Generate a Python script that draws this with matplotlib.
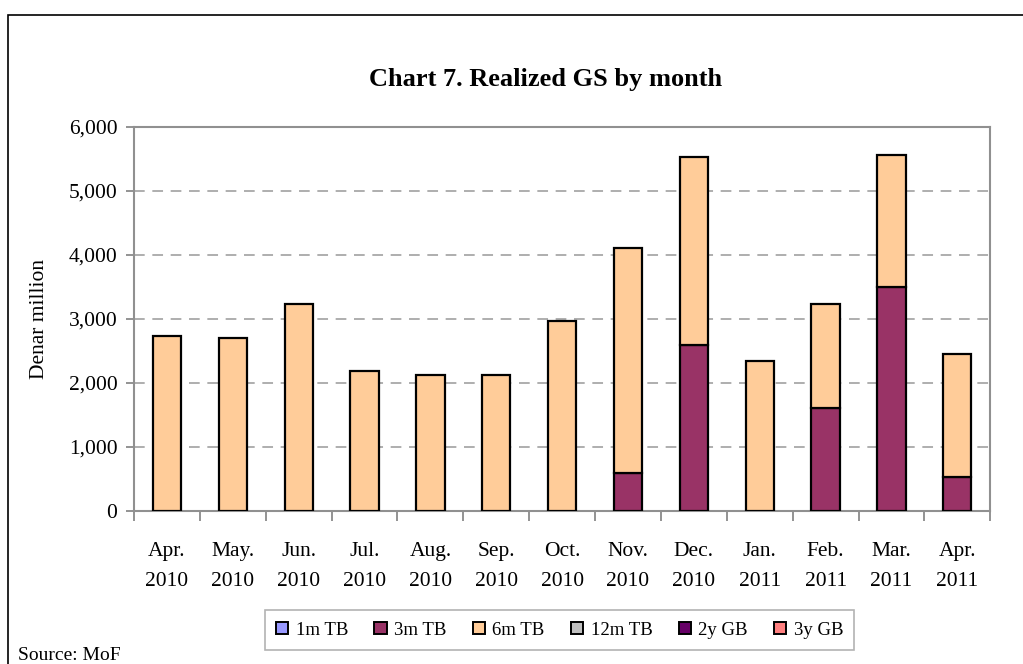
import numpy as np
import matplotlib.pyplot as plt
from matplotlib.patches import Rectangle
from matplotlib.ticker import FuncFormatter

plt.rcParams['font.family'] = ['Liberation Serif', 'DejaVu Serif']

# monthly realized government securities, denar million
months = ['Apr.\n2010', 'May.\n2010', 'Jun.\n2010', 'Jul.\n2010', 'Aug.\n2010',
          'Sep.\n2010', 'Oct.\n2010', 'Nov.\n2010', 'Dec.\n2010', 'Jan.\n2011',
          'Feb.\n2011', 'Mar.\n2011', 'Apr.\n2011']
tb_1m = [0, 0, 0, 0, 0, 0, 0, 0, 0, 0, 0, 0, 0]
tb_3m = [0, 0, 0, 0, 0, 0, 0, 600, 2600, 0, 1610, 3495, 530]
tb_6m = [2736, 2711, 3234, 2193, 2130, 2130, 2972, 3502, 2931, 2339, 1624, 2067, 1919]
tb_12m = [0, 0, 0, 0, 0, 0, 0, 0, 0, 0, 0, 0, 0]
gb_2y = [0, 0, 0, 0, 0, 0, 0, 0, 0, 0, 0, 0, 0]
gb_3y = [0, 0, 0, 0, 0, 0, 0, 0, 0, 0, 0, 0, 0]

series = [('1m TB', tb_1m, '#9999FF'), ('3m TB', tb_3m, '#993366'),
          ('6m TB', tb_6m, '#FFCC99'), ('12m TB', tb_12m, '#C0C0C0'),
          ('2y GB', gb_2y, '#660066'), ('3y GB', gb_3y, '#FF8080')]

fig = plt.figure(figsize=(10.23, 6.64), dpi=100)
ax = fig.add_axes([0.131, 0.2304, 0.837, 0.5783])

x = np.arange(len(months))
bottom = np.zeros(len(months))
handles = []
for name, vals, col in series:
    vals = np.array(vals, dtype=float)
    lw = np.where(vals > 0, 1.6, 0.0)
    ax.bar(x, vals, 0.43, bottom=bottom, color=col, edgecolor='black',
           linewidth=lw, zorder=3)
    bottom += vals
    handles.append(Rectangle((0, 0), 1, 1, facecolor=col, edgecolor='black', linewidth=1.4))

ax.set_xlim(-0.5, len(months) - 0.5)
ax.set_ylim(0, 6000)
ax.set_yticks(np.arange(0, 6001, 1000))
ax.yaxis.set_major_formatter(FuncFormatter(lambda v, p: '{:,.0f}'.format(v)))
for y in range(1000, 6000, 1000):
    ax.axhline(y, color='#999999', lw=1.1, ls=(0, (7, 5)), zorder=1)

ax.set_xticks(x)
ax.set_xticklabels(months, fontsize=15.5, linespacing=1.8)
ax.set_xticks(np.arange(-0.5, len(months)), minor=True)
ax.tick_params(axis='x', which='major', length=0, pad=22)
ax.tick_params(axis='x', which='minor', length=7, width=1.2, color='#808080')
ax.tick_params(axis='y', length=6, width=1.2, color='#808080', labelsize=15.5, pad=6)

for s in ax.spines.values():
    s.set_color('#909090')
    s.set_linewidth(1.5)

ax.set_ylabel('Denar million', fontsize=15.5, labelpad=14)
fig.text(0.533, 0.88, 'Chart 7. Realized GS by month', ha='center', va='center',
         fontsize=19, fontweight='bold')

leg = fig.legend(handles, [s[0] for s in series], loc='center', ncol=6,
                 bbox_to_anchor=(0.547, 0.051), fontsize=13.5, frameon=True,
                 fancybox=False, handlelength=0.65, handleheight=0.65,
                 handletextpad=0.4, columnspacing=1.4, borderpad=0.6)
leg.get_frame().set_edgecolor('#a0a0a0')
leg.get_frame().set_linewidth(1.2)

# outer chart frame
fig.patches.append(Rectangle((8 / 1023, -0.1), 1.1, (664 - 15) / 664 + 0.1,
                             transform=fig.transFigure, fill=False,
                             edgecolor='black', linewidth=1.2))
fig.text(18 / 1023, 0.0, 'Source: MoF', fontsize=14, ha='left', va='bottom')

fig.savefig('out.png', dpi=100)
